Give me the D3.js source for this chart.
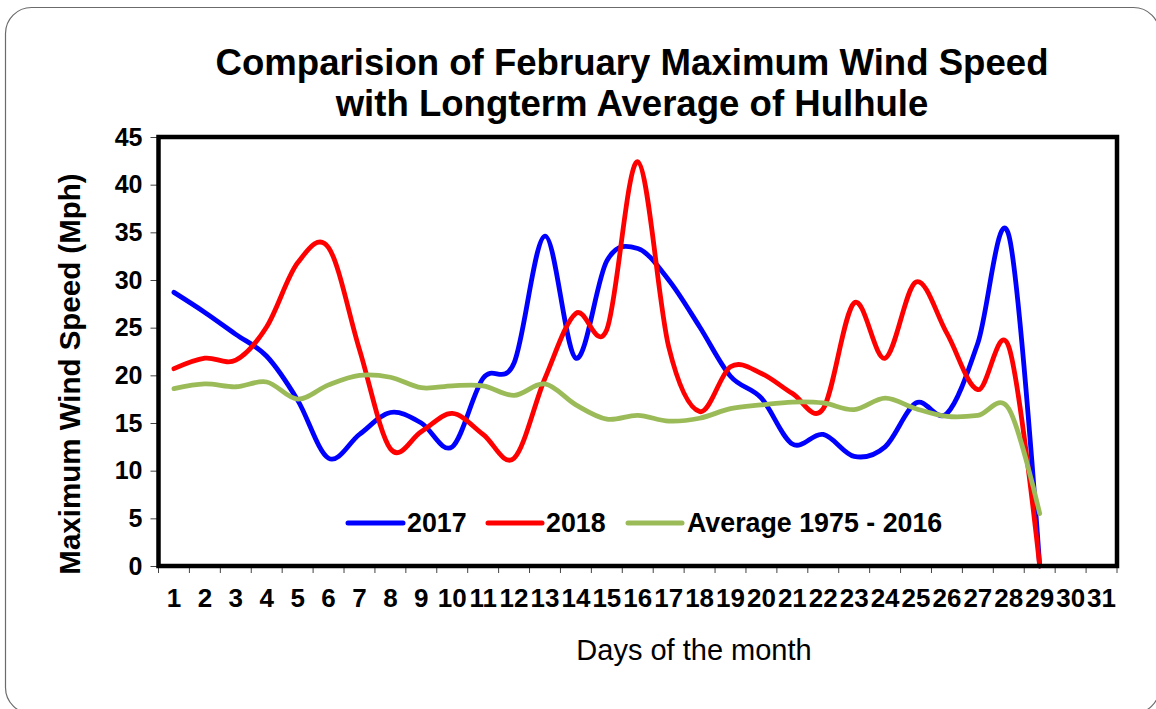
<!DOCTYPE html>
<html>
<head>
<meta charset="utf-8">
<script src="https://cdn.jsdelivr.net/npm/d3@7"></script>
<style>
  html, body { margin: 0; padding: 0; background: #fff; }
  svg { display: block; font-family: "Liberation Sans", Arial, sans-serif; }
</style>
</head>
<body>
<svg id="chart" width="1156" height="709"></svg>
<script>
const days = d3.range(1, 32);
const dayLabels = days.map(String);
const yTicks = [0, 5, 10, 15, 20, 25, 30, 35, 40, 45];
const seriesNames = ["2017", "2018", "Average 1975 - 2016"];
const seriesColors = ["#0000FF", "#FF0000", "#9BBB59"];
const values2017 = [28.7, 26.6, 24.3, 22.0, 17.4, 11.3, 13.8, 16.1, 15.0, 12.5, 19.7, 21.3, 34.6, 21.8, 32.0, 33.3, 30.0, 25.1, 19.9, 17.6, 12.8, 13.8, 11.5, 12.5, 17.1, 16.0, 23.4, 34.7, 0];
const values2018 = [20.7, 21.8, 21.6, 25.1, 31.8, 33.4, 22.7, 12.3, 14.1, 16.0, 13.8, 11.3, 19.7, 26.5, 24.8, 42.4, 23.0, 16.2, 20.9, 20.2, 18.1, 16.5, 27.6, 21.8, 29.8, 24.4, 18.5, 23.0, 0];
const valuesAvg = [18.6, 19.1, 18.8, 19.3, 17.5, 19.0, 20.0, 19.8, 18.7, 18.9, 18.9, 17.9, 19.1, 16.9, 15.4, 15.8, 15.2, 15.5, 16.5, 16.9, 17.2, 17.1, 16.4, 17.6, 16.5, 15.7, 15.8, 16.5, 5.5];
const allSeries = [values2017, values2018, valuesAvg];

(function () {
const svg = d3.select("#chart");

// outer rounded frame
svg.append("rect")
  .attr("x", 5.5).attr("y", 7.5).attr("width", 1154).attr("height", 706)
  .attr("rx", 26).attr("ry", 26)
  .attr("fill", "#fff").attr("stroke", "#6b6b6b").attr("stroke-width", 1.2);

const pLeft = 158.5, pRight = 1117, pTop = 137, pBottom = 566;

const x = d3.scaleBand().domain(days).range([pLeft, pRight]).padding(0);
const y = d3.scaleLinear().domain([0, 45]).range([pBottom, pTop]);
const cx = d => x(d) + x.bandwidth() / 2;

// title
const title = svg.append("text")
  .attr("text-anchor", "middle")
  .attr("font-weight", "bold").attr("font-size", 36.6).attr("fill", "#000");
title.append("tspan").attr("x", 632).attr("y", 75).text("Comparision of February Maximum Wind Speed");
title.append("tspan").attr("x", 632).attr("y", 116).text("with Longterm Average of Hulhule");

// y axis
const yAxis = d3.axisLeft(y).tickValues(yTicks).tickSize(7).tickPadding(8);
const gy = svg.append("g").attr("transform", `translate(${pLeft - 1},0)`).call(yAxis);
gy.select(".domain").remove();
gy.selectAll(".tick line").attr("stroke", "#444").attr("stroke-width", 1);
gy.selectAll(".tick text")
  .attr("font-family", "Liberation Sans, Arial, sans-serif")
  .attr("font-size", 25).attr("font-weight", "bold").attr("fill", "#000");

// x axis
const xAxis = d3.axisBottom(x).tickValues(days).tickFormat((d, i) => dayLabels[i]).tickSize(0).tickPadding(23);
const gx = svg.append("g").attr("transform", `translate(0,${pBottom})`).call(xAxis);
gx.select(".domain").remove();
gx.selectAll(".tick text")
  .attr("font-family", "Liberation Sans, Arial, sans-serif")
  .attr("font-size", 26).attr("font-weight", "bold").attr("fill", "#000");
// x tick marks at band boundaries
const boundaries = days.map(d => x(d)).concat([x(days[days.length - 1]) + x.bandwidth()]);
svg.append("g").selectAll("line").data(boundaries).join("line")
  .attr("x1", d => d).attr("x2", d => d)
  .attr("y1", pBottom).attr("y2", pBottom + 7)
  .attr("stroke", "#444").attr("stroke-width", 1);

// axis titles
svg.append("text")
  .attr("transform", `translate(80,374) rotate(-90)`)
  .attr("text-anchor", "middle")
  .attr("font-weight", "bold").attr("font-size", 29.5).attr("fill", "#000")
  .text("Maximum Wind Speed (Mph)");

svg.append("text")
  .attr("x", 694).attr("y", 660)
  .attr("text-anchor", "middle")
  .attr("font-size", 29).attr("fill", "#000")
  .text("Days of the month");

// lines
const line = d3.line()
  .x((d, i) => cx(days[i]))
  .y(d => y(d))
  .curve(d3.curveCardinal.tension(0));

svg.append("g").selectAll("path").data(allSeries).join("path")
  .attr("d", d => line(d))
  .attr("fill", "none")
  .attr("stroke", (d, i) => seriesColors[i])
  .attr("stroke-width", 4.8)
  .attr("stroke-linejoin", "round")
  .attr("stroke-linecap", "round");

// plot border
svg.append("rect")
  .attr("x", pLeft).attr("y", pTop)
  .attr("width", pRight - pLeft).attr("height", pBottom - pTop)
  .attr("fill", "none").attr("stroke", "#000").attr("stroke-width", 4.5);

// legend
const legendItems = [
  { x1: 348, x2: 403, tx: 407 },
  { x1: 488, x2: 542, tx: 546 },
  { x1: 628, x2: 682, tx: 687 }
];
const lg = svg.append("g");
legendItems.forEach((it, i) => {
  lg.append("line")
    .attr("x1", it.x1).attr("x2", it.x2).attr("y1", 523).attr("y2", 523)
    .attr("stroke", seriesColors[i]).attr("stroke-width", 5).attr("stroke-linecap", "round");
  lg.append("text")
    .attr("x", it.tx).attr("y", 532)
    .attr("font-weight", "bold").attr("font-size", 26.8).attr("fill", "#000")
    .text(seriesNames[i]);
});
})();
</script>
</body>
</html>
